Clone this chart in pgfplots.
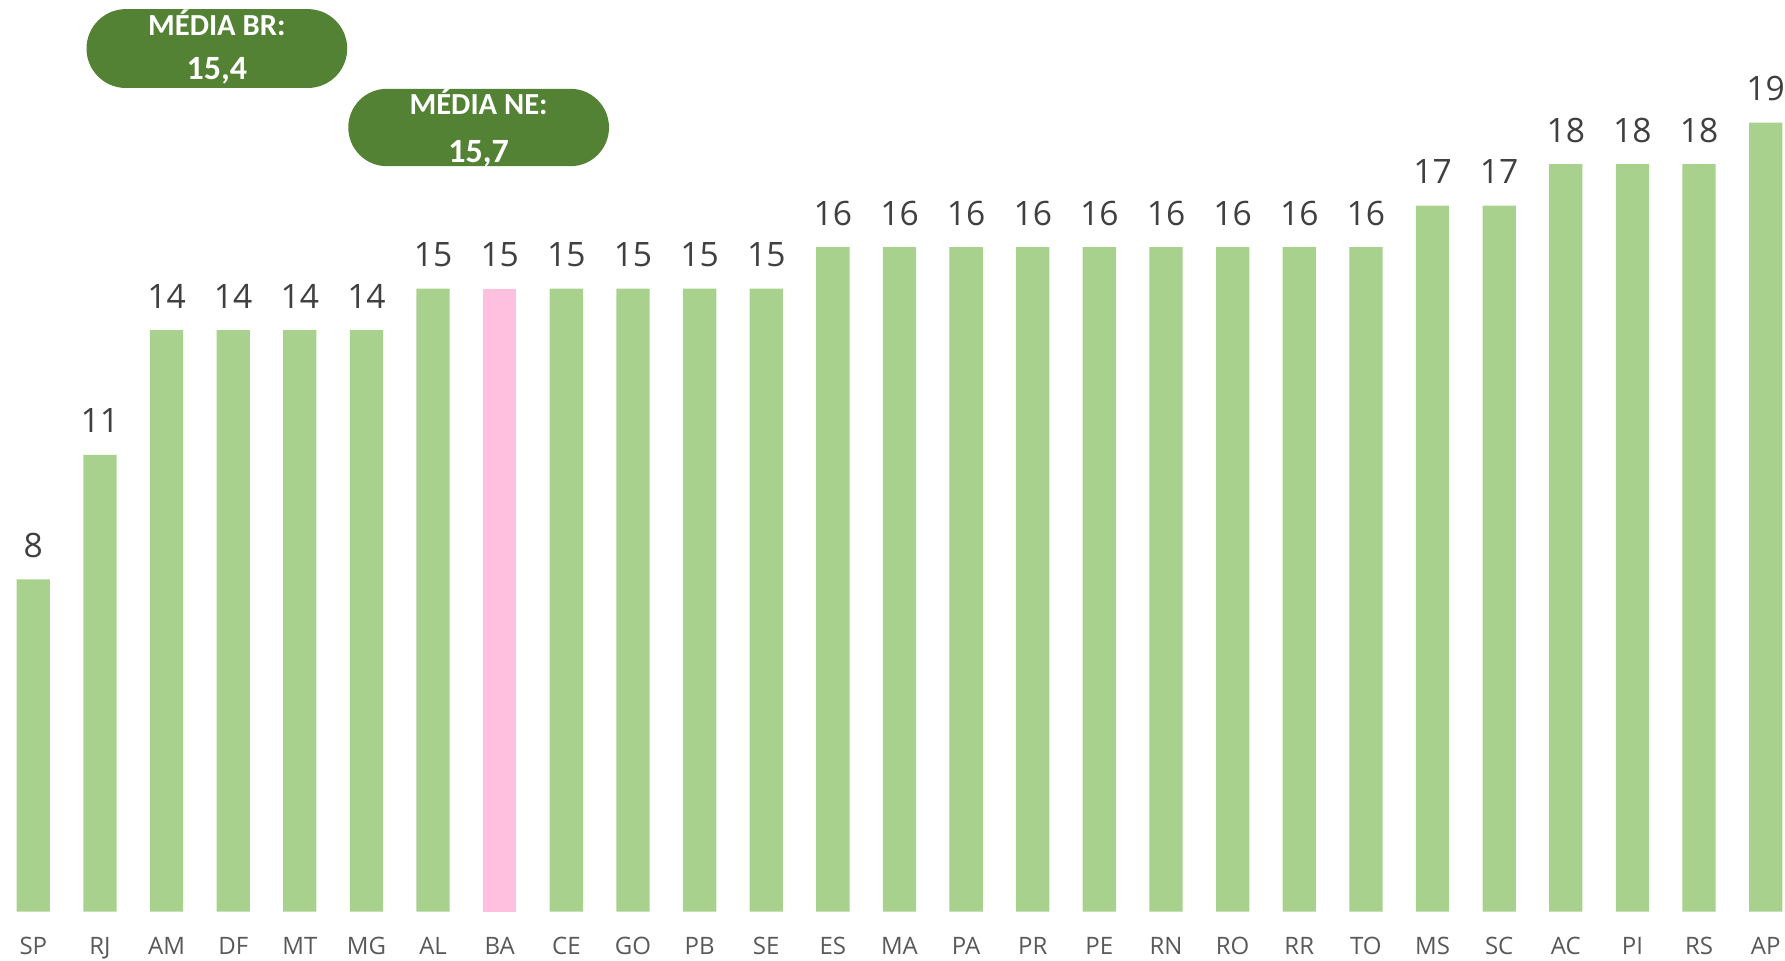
\documentclass[border=0pt]{standalone}
\usepackage{fontspec}
\setmainfont{Open Sans}
\newfontfamily\boxfont{Carlito}
\usepackage{pgfplots}
\pgfplotsset{compat=1.18}
\definecolor{barg}{HTML}{A9D18E}
\definecolor{barp}{HTML}{FFBFDF}
\definecolor{boxg}{HTML}{548235}
\definecolor{lbl}{HTML}{404040}
\definecolor{tickc}{HTML}{595959}
\begin{document}
\begin{tikzpicture}
\begin{axis}[
  scale only axis, width=892.5pt, height=455.85pt,
  xmin=-0.5, xmax=26.29, ymin=0, ymax=21.95,
  axis line style={draw=none}, major tick length=0pt,
  ytick=\empty, xtick={0,...,26},
  xticklabels={SP,RJ,AM,DF,MT,MG,AL,BA,CE,GO,PB,SE,ES,MA,PA,PR,PE,RN,RO,RR,TO,MS,SC,AC,PI,RS,AP},
  xticklabel style={font=\fontsize{12}{12}\selectfont, text=tickc, anchor=base, yshift=-21.5pt, inner sep=0pt},
  /pgf/number format/assume math mode=true,
  ybar, bar width=16.65pt, bar shift=0pt,
  nodes near coords,
  nodes near coords style={font=\fontsize{16.8}{17}\selectfont, text=lbl, anchor=base, inner sep=0pt, yshift=11pt},
  clip=false,
]
\addplot[fill=barg, draw=none] coordinates {
(0,8) (1,11) (2,14) (3,14) (4,14) (5,14) (6,15) (8,15) (9,15) (10,15) (11,15)
(12,16) (13,16) (14,16) (15,16) (16,16) (17,16) (18,16) (19,16) (20,16)
(21,17) (22,17) (23,18) (24,18) (25,18) (26,19)};
\addplot[fill=barp, draw=none] coordinates {(7,15)};
\end{axis}
\fill[boxg, rounded corners=19.7pt] (43.25pt,411.85pt) rectangle (173.6pt,451.3pt);
\fill[boxg, rounded corners=19.3pt] (174.15pt,372.75pt) rectangle (304.5pt,411.45pt);
\node[text=white, anchor=base, inner sep=0pt, font=\boxfont\bfseries\fontsize{15.3}{16}\selectfont] at (108.4pt,438.2pt) {MÉDIA BR:};
\node[text=white, anchor=base, inner sep=0pt, font=\boxfont\bfseries\fontsize{17}{18}\selectfont] at (108.4pt,415.85pt) {15,4};
\node[text=white, anchor=base, inner sep=0pt, font=\boxfont\bfseries\fontsize{15.3}{16}\selectfont] at (239.3pt,398.7pt) {MÉDIA NE:};
\node[text=white, anchor=base, inner sep=0pt, font=\boxfont\bfseries\fontsize{17}{18}\selectfont] at (239.3pt,374.35pt) {15,7};
\pgfresetboundingbox
\path (0pt,-24.15pt) rectangle (892.5pt,455.85pt);
\end{tikzpicture}
\end{document}
